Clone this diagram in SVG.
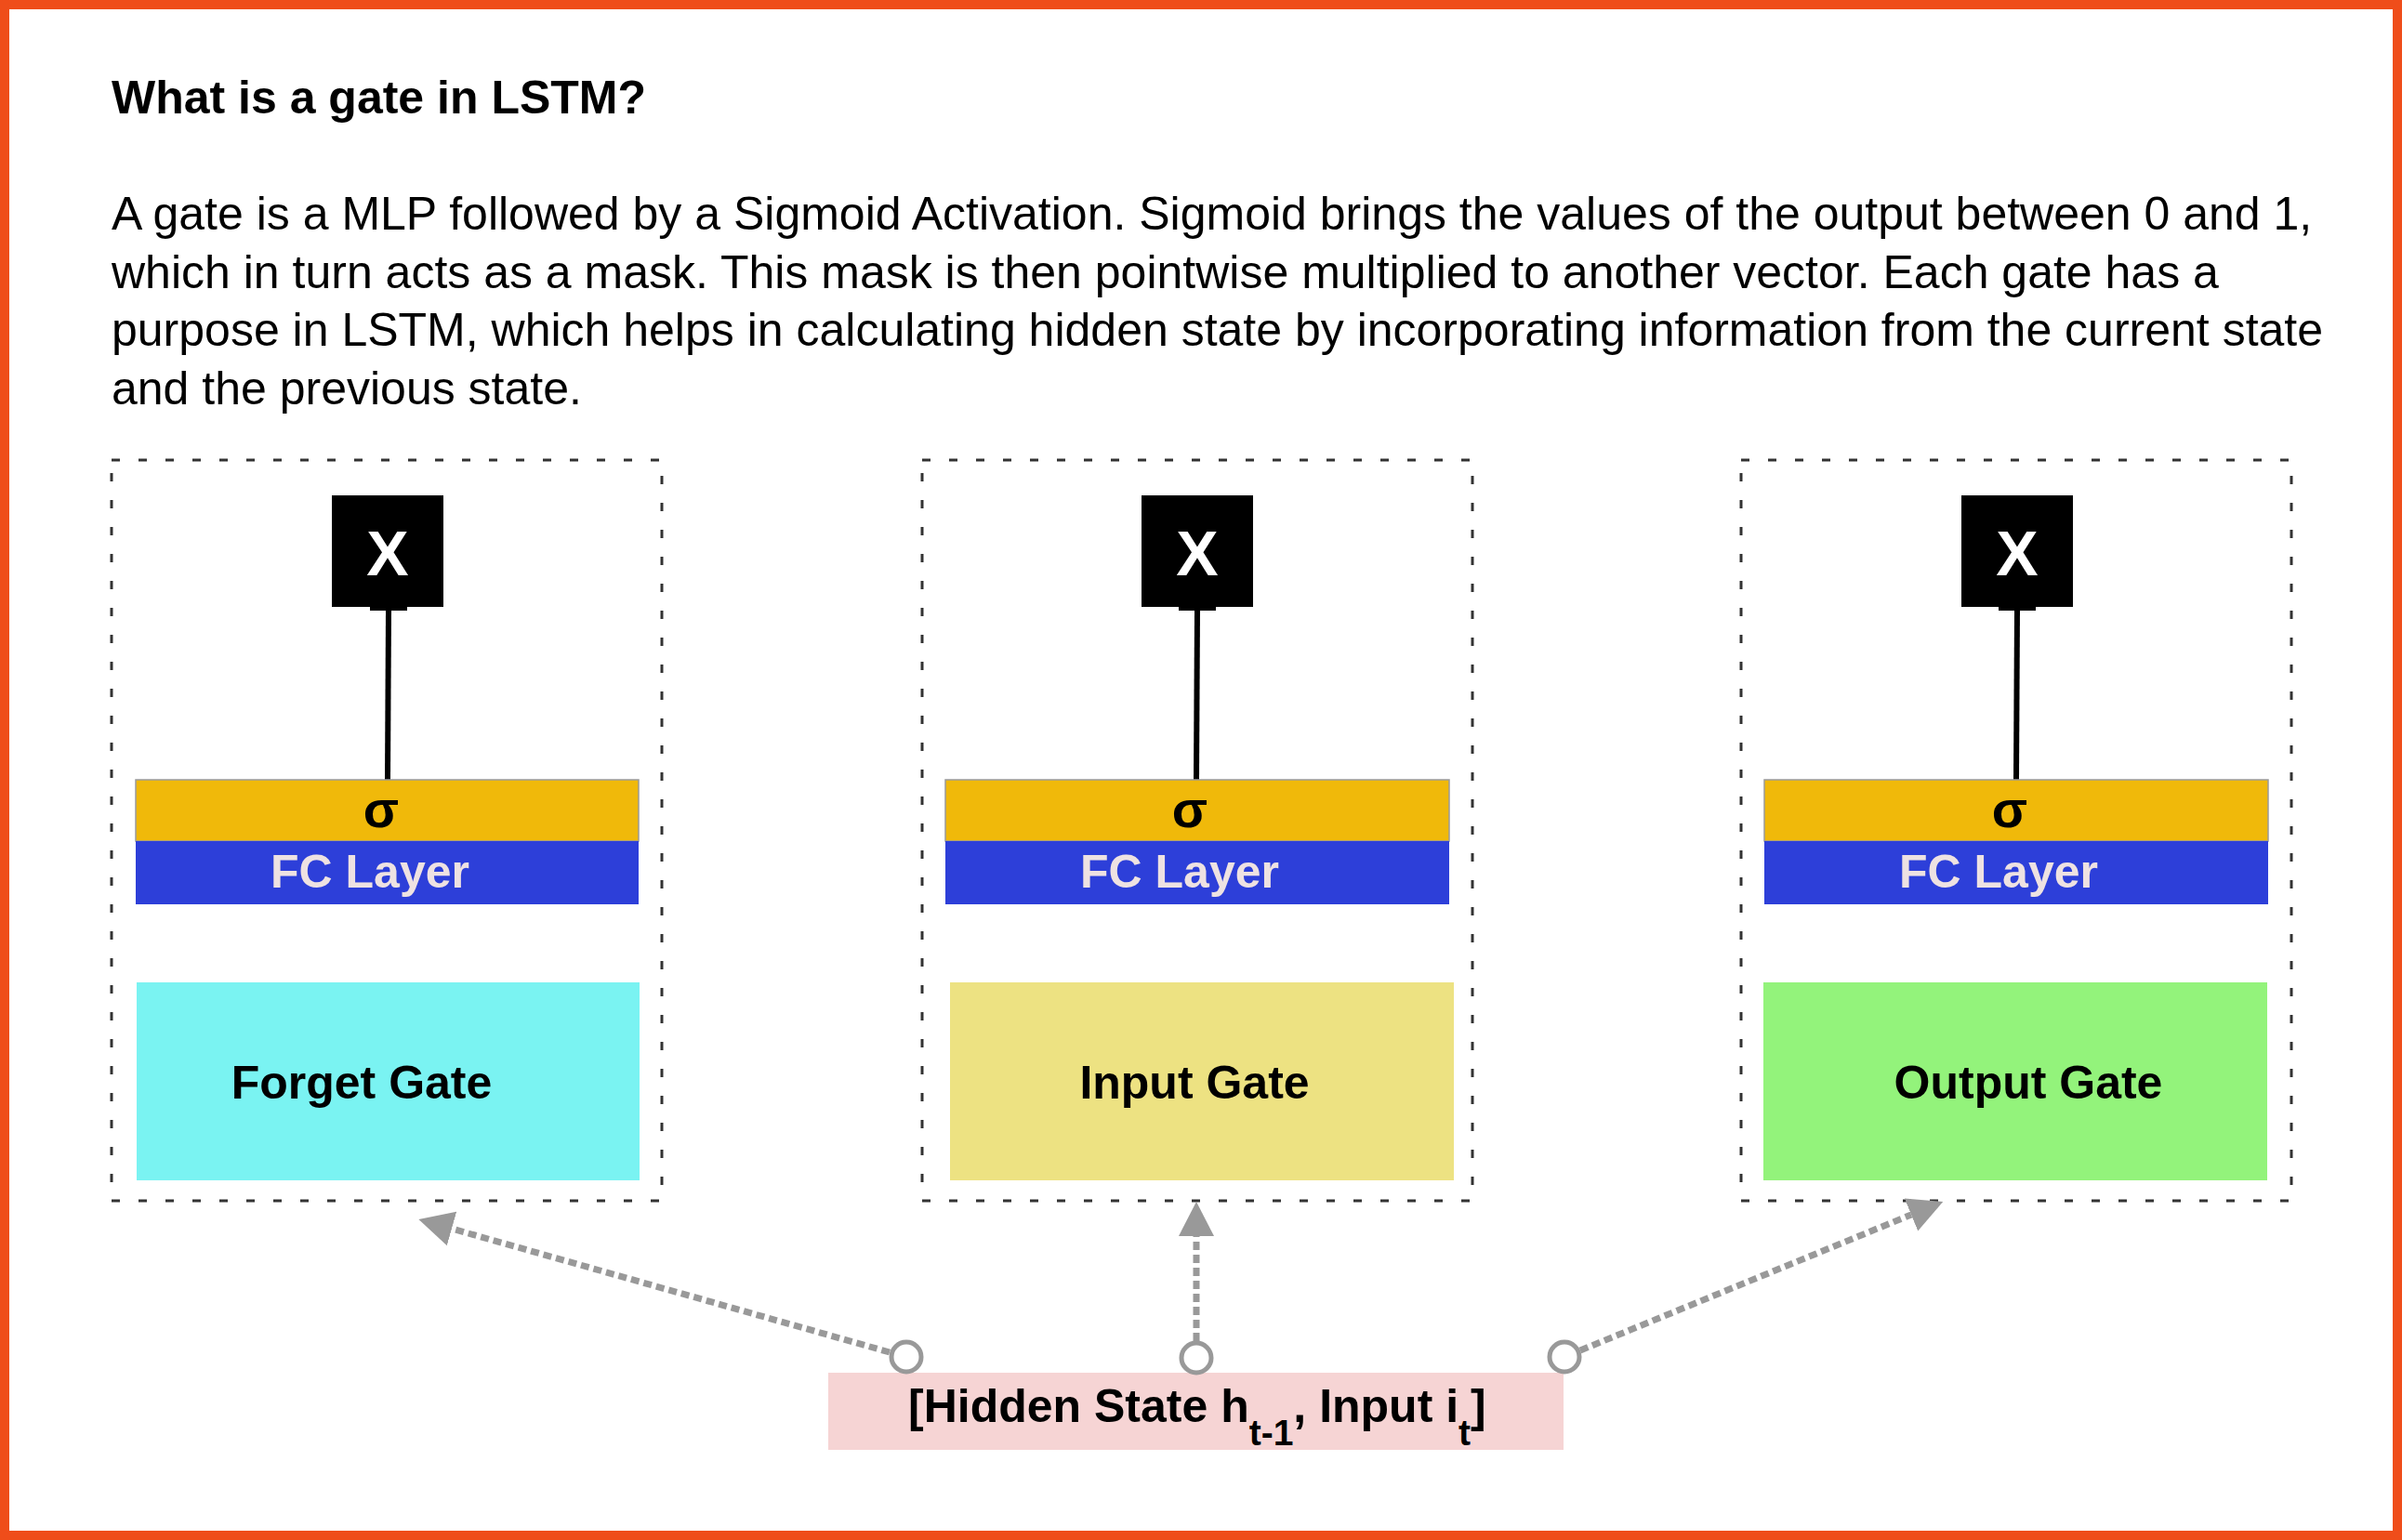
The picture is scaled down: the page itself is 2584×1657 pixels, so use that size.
<svg xmlns="http://www.w3.org/2000/svg" width="2584" height="1657" viewBox="0 0 2584 1657">
<defs>
<style>
text{font-family:"Liberation Sans",Arial,Helvetica,sans-serif;}
.title{font-size:50px;font-weight:bold;fill:#000;}
.para{font-size:50px;fill:#000;}
.frame{fill:none;stroke:#333;stroke-width:3;stroke-dasharray:9 20;}
.xbox{fill:#000;}
.xlbl{font-size:68px;font-weight:bold;fill:#fff;text-anchor:middle;}
.sig{fill:#F0B90A;stroke:#9a9a9a;stroke-width:1.5;}
.siglbl{font-size:56px;font-weight:bold;fill:#000;text-anchor:middle;}
.fc{fill:#2D3FD9;}
.fclbl{font-size:50px;font-weight:bold;fill:#EEE2E2;text-anchor:middle;}
.glbl{font-size:50px;font-weight:bold;fill:#000;text-anchor:middle;}
.stem{stroke:#000;stroke-width:6;fill:none;}
.conn{stroke:#999;stroke-width:7;stroke-dasharray:9 5;fill:none;marker-end:url(#ah);}
.oval{fill:#fff;stroke:#999;stroke-width:5;}
</style>
<marker id="ah" markerUnits="userSpaceOnUse" markerWidth="40" markerHeight="40" viewBox="0 -20 40 40" refX="0" refY="0" orient="auto">
<path d="M0,-19 L37,0 L0,19 Z" fill="#999"/>
</marker>
</defs>
<rect x="5" y="5" width="2574" height="1647" fill="#fff" stroke="#EF4D1A" stroke-width="10"/>
<g id="heading">
<text class="title" x="120" y="122">What is a gate in LSTM?</text>
<text class="para" x="120" y="247">A gate is a MLP followed by a Sigmoid Activation. Sigmoid brings the values of the output between 0 and 1,</text>
<text class="para" x="120" y="310">which in turn acts as a mask. This mask is then pointwise multiplied to another vector. Each gate has a</text>
<text class="para" x="120" y="372">purpose in LSTM, which helps in calculating hidden state by incorporating information from the current state</text>
<text class="para" x="120" y="435">and the previous state.</text>
</g>
<g id="forget-gate">
<rect class="frame" x="120" y="495" width="592" height="797"/>
<rect class="xbox" x="357" y="533" width="120" height="120"/>
<text class="xlbl" x="417" y="619">X</text>
<rect x="398" y="653" width="40" height="4" fill="#000"/>
<line class="stem" x1="418" y1="657" x2="417" y2="839"/>
<rect class="sig" x="146" y="839" width="541" height="66"/>
<text class="siglbl" x="410" y="890">σ</text>
<rect class="fc" x="146" y="905" width="541" height="68"/>
<text class="fclbl" x="398" y="955">FC Layer</text>
<rect x="147" y="1057" width="541" height="213" fill="#7AF3F2"/>
<text class="glbl" x="389" y="1182">Forget Gate</text>
</g>
<g id="input-gate">
<rect class="frame" x="992" y="495" width="592" height="797"/>
<rect class="xbox" x="1228" y="533" width="120" height="120"/>
<text class="xlbl" x="1288" y="619">X</text>
<rect x="1268" y="653" width="40" height="4" fill="#000"/>
<line class="stem" x1="1288" y1="657" x2="1287" y2="839"/>
<rect class="sig" x="1017" y="839" width="542" height="66"/>
<text class="siglbl" x="1280" y="890">σ</text>
<rect class="fc" x="1017" y="905" width="542" height="68"/>
<text class="fclbl" x="1269" y="955">FC Layer</text>
<rect x="1022" y="1057" width="542" height="213" fill="#EDE282"/>
<text class="glbl" x="1285" y="1182">Input Gate</text>
</g>
<g id="output-gate">
<rect class="frame" x="1873" y="495" width="592" height="797"/>
<rect class="xbox" x="2110" y="533" width="120" height="120"/>
<text class="xlbl" x="2170" y="619">X</text>
<rect x="2150" y="653" width="40" height="4" fill="#000"/>
<line class="stem" x1="2170" y1="657" x2="2169" y2="839"/>
<rect class="sig" x="1898" y="839" width="542" height="66"/>
<text class="siglbl" x="2162" y="890">σ</text>
<rect class="fc" x="1898" y="905" width="542" height="68"/>
<text class="fclbl" x="2150" y="955">FC Layer</text>
<rect x="1897" y="1057" width="542" height="213" fill="#93F37B"/>
<text class="glbl" x="2182" y="1182">Output Gate</text>
</g>
<g id="input-vector">
<rect x="891" y="1477" width="791" height="83" fill="#F6D4D4"/>
<text class="glbl" x="977" y="1530" style="text-anchor:start">[Hidden State h<tspan font-size="39" dy="25">t-1</tspan><tspan dy="-25">, Input i</tspan><tspan font-size="39" dy="25">t</tspan><tspan dy="-25">]</tspan></text>
</g>
<g id="connectors">
<line class="conn" x1="957" y1="1455" x2="486" y2="1322"/>
<line class="conn" x1="1287" y1="1443" x2="1287" y2="1330"/>
<line class="conn" x1="1700" y1="1453" x2="2056" y2="1307"/>
<circle class="oval" cx="975" cy="1460" r="16"/>
<circle class="oval" cx="1287" cy="1461" r="16"/>
<circle class="oval" cx="1683" cy="1460" r="16"/>
</g>
</svg>
